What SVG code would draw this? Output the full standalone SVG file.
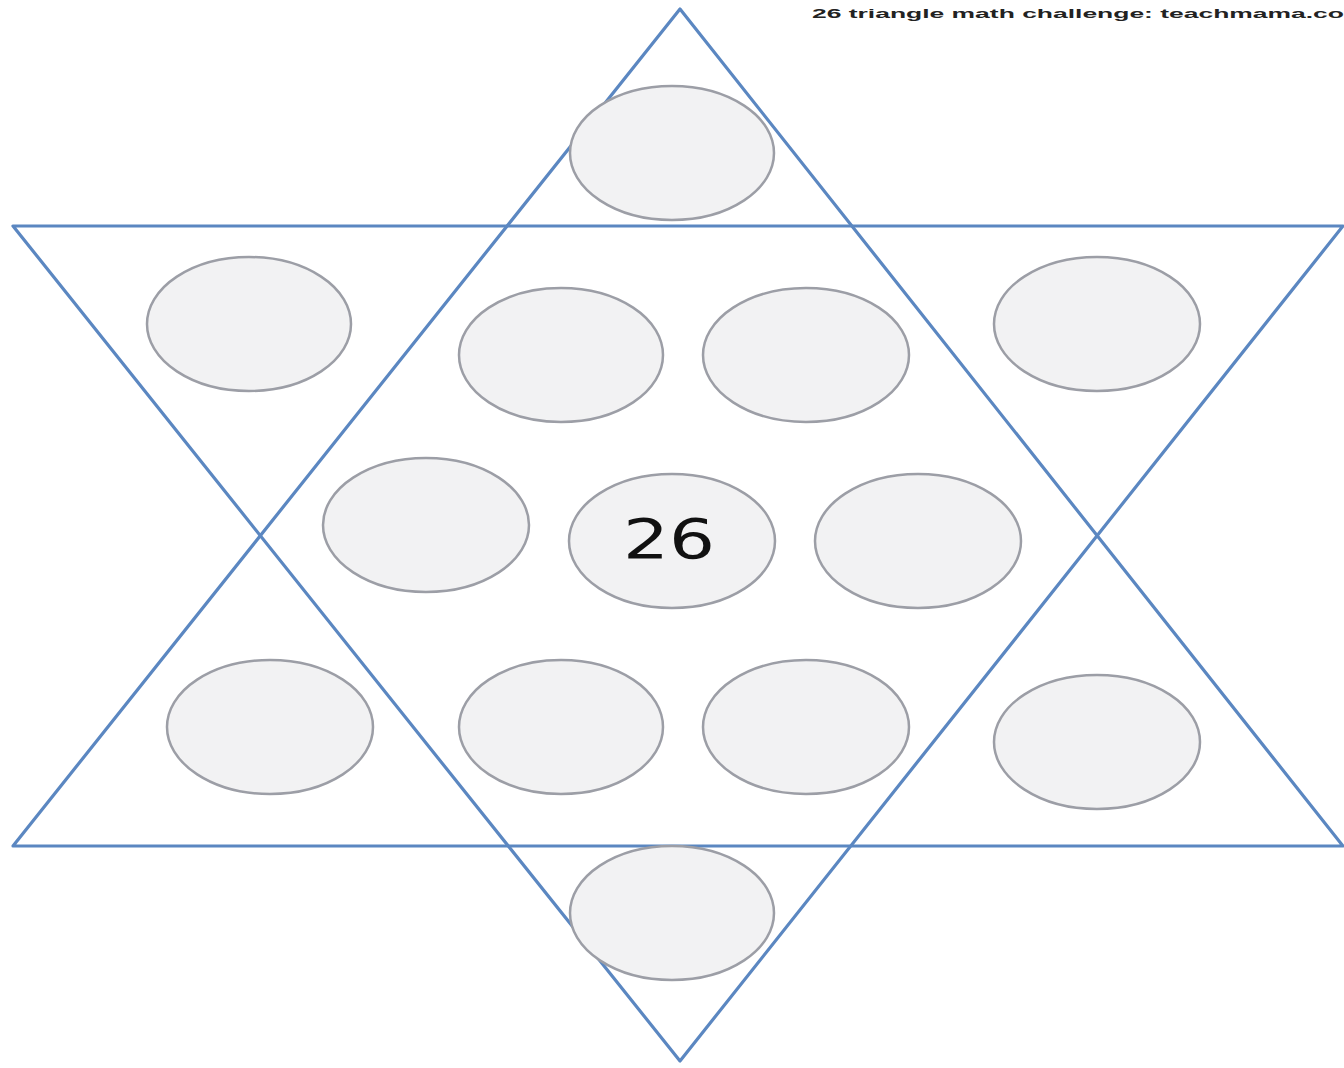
<svg xmlns="http://www.w3.org/2000/svg" width="1344" height="1068" viewBox="0 0 1344 1068">
<style>
.tri{fill:none;stroke:#5b87c1;stroke-width:3.2;stroke-linejoin:round}
.c{fill:#f2f2f3;stroke:#9c9ea6;stroke-width:2.5}
.lbl{font-family:"DejaVu Sans","Liberation Sans",sans-serif;font-size:56px;fill:#111;text-anchor:middle}
.cap{font-family:"Liberation Sans",Arial,sans-serif;font-size:13px;font-weight:bold;fill:#222}
</style>
<rect width="1344" height="1068" fill="#fff"/>
<g id="connectors">
<polygon class="tri" points="680,9 1343,846 13,846"/>
<polygon class="tri" points="13,226 1343,226 680,1061"/>
</g>
<g id="n-top"><ellipse class="c" cx="672" cy="153" rx="102" ry="67"/></g>
<g id="n-r2a"><ellipse class="c" cx="249" cy="324" rx="102" ry="67"/></g>
<g id="n-r2b"><ellipse class="c" cx="561" cy="355" rx="102" ry="67"/></g>
<g id="n-r2c"><ellipse class="c" cx="806" cy="355" rx="103" ry="67"/></g>
<g id="n-r2d"><ellipse class="c" cx="1097" cy="324" rx="103" ry="67"/></g>
<g id="n-r3a"><ellipse class="c" cx="426" cy="525" rx="103" ry="67"/></g>
<g id="n-center"><ellipse class="c" cx="672" cy="541" rx="103" ry="67"/><text class="lbl" x="669" y="558" textLength="92" lengthAdjust="spacingAndGlyphs">26</text></g>
<g id="n-r3c"><ellipse class="c" cx="918" cy="541" rx="103" ry="67"/></g>
<g id="n-r4a"><ellipse class="c" cx="270" cy="727" rx="103" ry="67"/></g>
<g id="n-r4b"><ellipse class="c" cx="561" cy="727" rx="102" ry="67"/></g>
<g id="n-r4c"><ellipse class="c" cx="806" cy="727" rx="103" ry="67"/></g>
<g id="n-r4d"><ellipse class="c" cx="1097" cy="742" rx="103" ry="67"/></g>
<g id="n-bottom"><ellipse class="c" cx="672" cy="913" rx="102" ry="67"/></g>
<text class="cap" x="812" y="18" textLength="532" lengthAdjust="spacingAndGlyphs">26 triangle math challenge: teachmama.co</text>
</svg>
